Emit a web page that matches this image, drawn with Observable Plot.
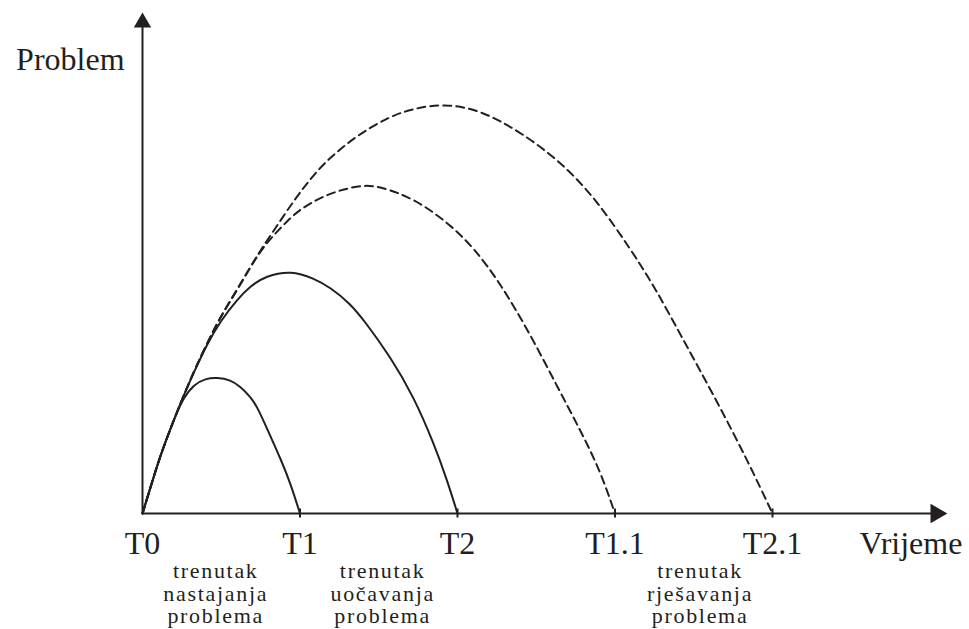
<!DOCTYPE html>
<html><head><meta charset="utf-8">
<script src="https://cdn.jsdelivr.net/npm/d3@7"></script>
<script src="https://cdn.jsdelivr.net/npm/@observablehq/plot@0.6"></script>
<style>
body{margin:0;background:#fff}
g[font-size="22"] text{letter-spacing:1.7px}
</style>
</head><body><div id="chart"></div>
<script>
// x positions of the time marks (T units) and their labels
const tickPositions = [0, 1, 2, 3, 4];
const tickLabels = ["T0", "T1", "T2", "T1.1", "T2.1"];
const phaseLabels = ["trenutak\nnastajanja\nproblema", "trenutak\nuočavanja\nproblema", "trenutak\nrješavanja\nproblema"];
const phasePositions = [0.465, 1.525, 3.54];

// Curve A (solid, ends at T1)
const curveA_t = [0, 0.051, 0.103, 0.157, 0.210, 0.262, 0.326, 0.400, 0.474, 0.559, 0.622, 0.686, 0.728, 0.813, 0.876, 0.940, 1.0];
const curveA_v = [0, 0.263, 0.53, 0.763, 0.98, 1.16, 1.29, 1.35, 1.36, 1.335, 1.27, 1.165, 1.07, 0.77, 0.55, 0.30, 0];
// Curve B (solid, ends at T2)
const curveB_t = [0, 0.051, 0.103, 0.157, 0.210, 0.262, 0.326, 0.411, 0.495, 0.601, 0.686, 0.781, 0.946, 1.088, 1.194, 1.321, 1.405, 1.575, 1.723, 1.850, 1.935, 2.0];
const curveB_v = [0, 0.263, 0.53, 0.763, 0.98, 1.18, 1.413, 1.697, 1.925, 2.14, 2.275, 2.375, 2.43, 2.35, 2.26, 2.095, 1.935, 1.565, 1.165, 0.70, 0.33, 0];
// Curve C (dashed, ends at T1.1)
const curveC_t = [0, 0.051, 0.103, 0.157, 0.210, 0.262, 0.326, 0.411, 0.495, 0.601, 0.686, 0.738, 0.792, 0.855, 0.919, 1.003, 1.130, 1.257, 1.397, 1.511, 1.723, 1.935, 2.103, 2.273, 2.463, 2.633, 2.781, 2.908, 3.0];
const curveC_v = [0, 0.263, 0.53, 0.763, 0.98, 1.18, 1.42, 1.705, 1.965, 2.235, 2.465, 2.595, 2.71, 2.82, 2.925, 3.045, 3.16, 3.235, 3.285, 3.27, 3.15, 2.915, 2.66, 2.30, 1.79, 1.27, 0.83, 0.42, 0];
// Curve D (dashed, ends at T2.1)
const curveD_t = [0, 0.051, 0.103, 0.157, 0.210, 0.262, 0.326, 0.411, 0.495, 0.601, 0.686, 0.728, 0.770, 0.834, 0.897, 0.961, 1.024, 1.088, 1.173, 1.363, 1.575, 1.723, 1.913, 2.146, 2.406, 2.660, 2.876, 3.105, 3.257, 3.422, 3.638, 3.848, 4.0];
const curveD_v = [0, 0.263, 0.53, 0.763, 0.98, 1.18, 1.42, 1.705, 1.97, 2.24, 2.47, 2.575, 2.68, 2.83, 2.98, 3.125, 3.26, 3.385, 3.535, 3.785, 3.975, 4.05, 4.10, 4.035, 3.81, 3.51, 3.15, 2.63, 2.25, 1.77, 1.15, 0.51, 0];

const axisXEnd = 5.05, axisYEnd = 4.92;

const ink = "#231f20";
const rows = (name, ts, vs) => ts.map((t, i) => ({name, t, v: vs[i]}));
const solid = [...rows("A", curveA_t, curveA_v), ...rows("B", curveB_t, curveB_v)];
const dashed = [...rows("C", curveC_t, curveC_v), ...rows("D", curveD_t, curveD_v)];
const font = "'Liberation Serif', 'Times New Roman', serif";

const chart = Plot.plot({
  width: 969, height: 629,
  marginLeft: 142, marginRight: 197, marginTop: 13, marginBottom: 116,
  x: {domain: [0, 4], axis: null},
  y: {domain: [0, 5], axis: null},
  style: {fontFamily: font, background: "#fff", color: ink},
  marks: [
    Plot.ruleY([0], {x1: 0, x2: axisXEnd, stroke: ink, strokeWidth: 2}),
    Plot.ruleX([0], {y1: 0, y2: axisYEnd, stroke: ink, strokeWidth: 2}),
    Plot.dot([{x: 5.039, y: 0}], {x: "x", y: "y", symbol: "triangle2", r: 9.3, rotate: 90, fill: ink, stroke: "none"}),
    Plot.dot([{x: 0, y: 4.91}], {x: "x", y: "y", symbol: "triangle2", r: 8.3, fill: ink, stroke: "none"}),
    Plot.ruleX(tickPositions.slice(1), {y1: -0.045, y2: 0.045, stroke: ink, strokeWidth: 2}),
    Plot.line(solid, {x: "t", y: "v", z: "name", stroke: ink, strokeWidth: 2, curve: "basis"}),
    Plot.line(dashed, {x: "t", y: "v", z: "name", stroke: ink, strokeWidth: 2, strokeDasharray: "8,5", curve: "basis"}),
    Plot.text(tickPositions, {x: d => d, y: 0, text: (d, i) => tickLabels[i], dy: 30, fontSize: 32, fill: ink}),
    Plot.text(phasePositions, {x: d => d, y: 0, text: (d, i) => phaseLabels[i], dy: 48.5, lineAnchor: "top", lineHeight: 1.03, fontSize: 22, fill: ink}),
    Plot.text(["Vrijeme"], {x: 4.552, y: 0, text: d => d, dy: 30, textAnchor: "start", fontSize: 32, fill: ink}),
    Plot.text(["Problem"], {x: -0.114, y: 4.542, text: d => d, textAnchor: "end", fontSize: 32, fill: ink})
  ]
});
document.getElementById("chart").appendChild(chart);
</script>
</body></html>
